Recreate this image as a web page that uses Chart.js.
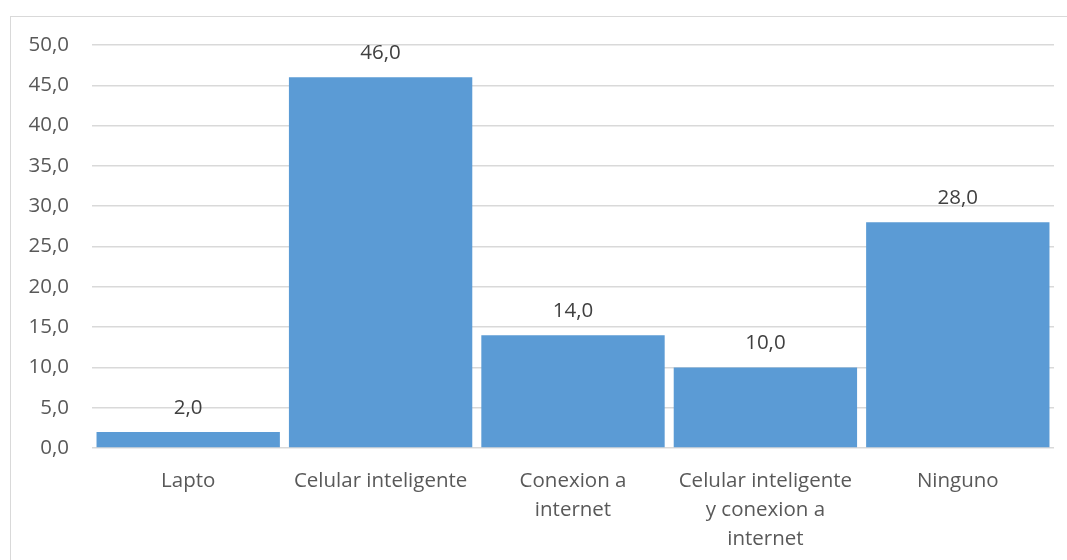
<!DOCTYPE html>
<html lang="es">
<head>
    <meta charset="UTF-8">
    <title>Dispositivos</title>
    <script src="https://cdn.jsdelivr.net/npm/chart.js"></script>
    <style>
        body { margin: 0; background: #ffffff; overflow: hidden; }
        .frame {
            position: absolute; left: 10px; top: 16px;
            width: 1100px; height: 600px;
            border: 1px solid #d9d9d9;
        }
        .wrap { position: absolute; left: 0; top: 0; width: 1067px; height: 560px; }
    </style>
</head>
<body>
    <div class="frame"></div>
    <div class="wrap"><canvas id="barChart"></canvas></div>
    <script>
        // Data
        const categories = [
            'Lapto',
            'Celular inteligente',
            ['Conexion a', 'internet'],
            ['Celular inteligente', 'y conexion a', 'internet'],
            'Ninguno'
        ];
        const values = [2.0, 46.0, 14.0, 10.0, 28.0];
        const yTicks = [0, 5, 10, 15, 20, 25, 30, 35, 40, 45, 50];

        const fmt = v => Number(v).toFixed(1).replace('.', ',');
        const fontFamily = "'Open Sans', sans-serif";

        // draw value labels above each bar
        const valueLabels = {
            id: 'valueLabels',
            afterDatasetsDraw(chart) {
                const ctx = chart.ctx;
                const meta = chart.getDatasetMeta(0);
                ctx.save();
                ctx.font = '20.5px ' + fontFamily;
                ctx.fillStyle = '#404040';
                ctx.textAlign = 'center';
                ctx.textBaseline = 'middle';
                meta.data.forEach((bar, i) => {
                    ctx.fillText(fmt(values[i]), bar.x, bar.y - 24);
                });
                ctx.restore();
            }
        };

        const ctx = document.getElementById('barChart').getContext('2d');
        new Chart(ctx, {
            type: 'bar',
            data: {
                labels: categories,
                datasets: [{
                    data: values,
                    backgroundColor: '#5b9bd5',
                    categoryPercentage: 1.0,
                    barPercentage: 0.953
                }]
            },
            options: {
                responsive: true,
                maintainAspectRatio: false,
                animation: false,
                layout: { padding: { left: 0, right: 13, top: 45, bottom: 0 } },
                plugins: {
                    legend: { display: false },
                    tooltip: { enabled: false }
                },
                scales: {
                    x: {
                        grid: { display: false },
                        border: { display: false },
                        ticks: {
                            color: '#595959',
                            font: { family: fontFamily, size: 20.5, lineHeight: '29px' },
                            padding: 11,
                            maxRotation: 0,
                            autoSkip: false
                        },
                        afterFit: s => { s.height = 112; }
                    },
                    y: {
                        min: 0,
                        max: 50,
                        afterBuildTicks: s => { s.ticks = yTicks.map(v => ({ value: v })); },
                        grid: { color: '#d9d9d9', lineWidth: 1.5, drawTicks: false },
                        border: { display: false },
                        ticks: {
                            color: '#595959',
                            font: { family: fontFamily, size: 20.5 },
                            padding: 23,
                            callback: v => fmt(v)
                        },
                        afterFit: s => { s.width = 92; }
                    }
                }
            },
            plugins: [valueLabels]
        });
    </script>
</body>
</html>
